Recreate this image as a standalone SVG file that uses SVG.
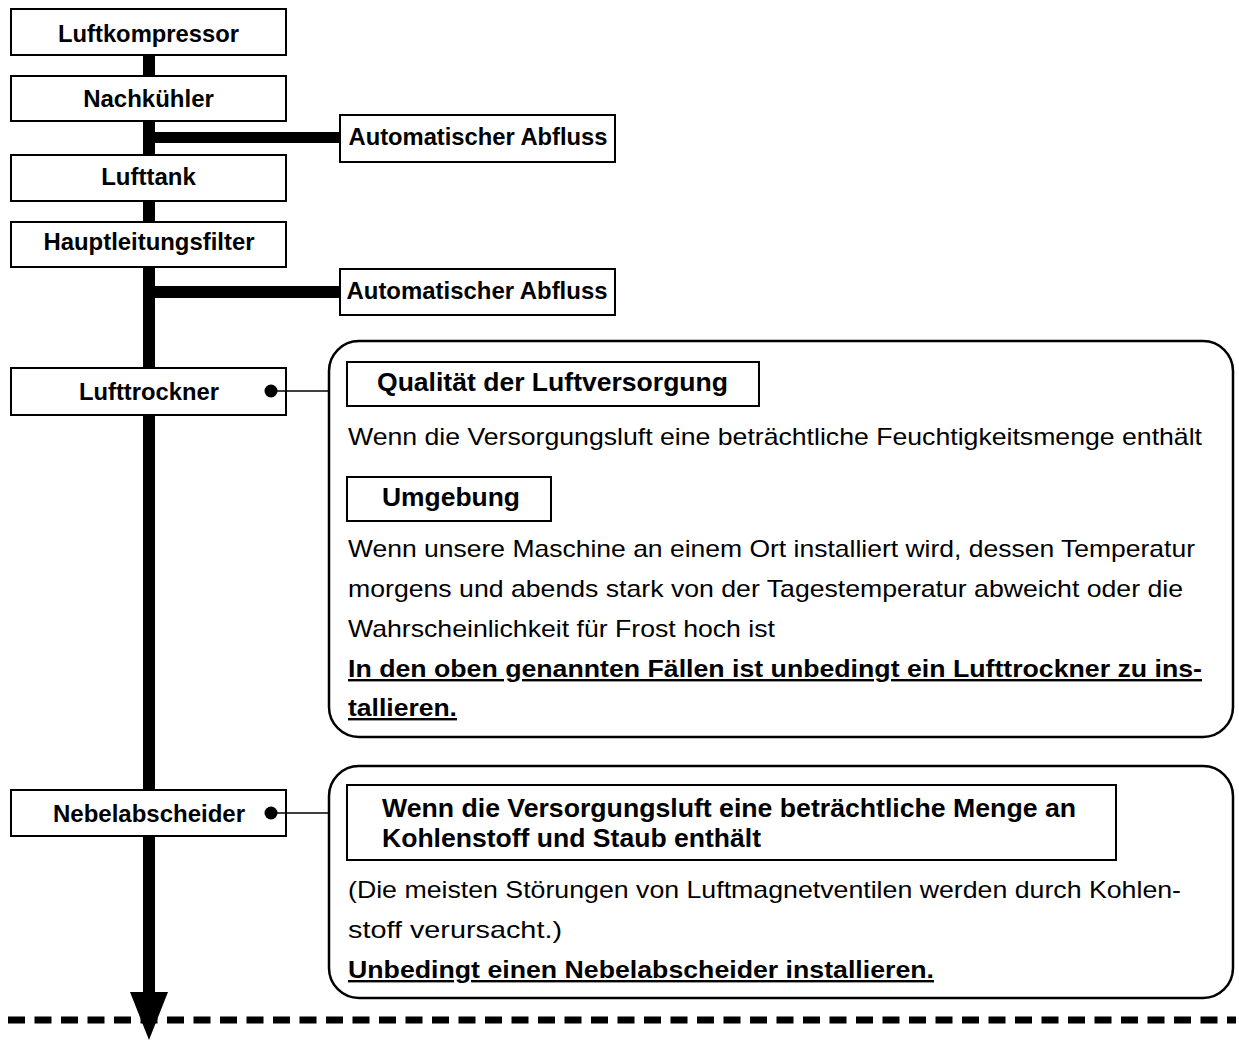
<svg xmlns="http://www.w3.org/2000/svg" width="1239" height="1041" viewBox="0 0 1239 1041">
<style>
.box{fill:#fff;stroke:#000;stroke-width:2}
.callout{fill:#fff;stroke:#000;stroke-width:2.5}
.lbl{font-family:"Liberation Sans",Arial,sans-serif;font-weight:bold;font-size:24px;fill:#000;text-anchor:middle}
.hdr{font-family:"Liberation Sans",Arial,sans-serif;font-weight:bold;font-size:26px;fill:#000}
.txt{font-family:"Liberation Sans",Arial,sans-serif;font-size:24px;fill:#000}
.ul{font-family:"Liberation Sans",Arial,sans-serif;font-weight:bold;font-size:24px;fill:#000;text-decoration:underline}
.pipe{fill:#000}
.lead{stroke:#000;stroke-width:1.5}
.dot{fill:#000}
</style>
<rect width="1239" height="1041" fill="#fff"/>
<line x1="8" y1="1020" x2="1236" y2="1020" stroke="#000" stroke-width="7" stroke-dasharray="17 9.5"/>
<g id="n-luftkompressor">
  <rect class="box" x="11" y="9" width="275" height="46"/>
  <text class="lbl" x="148.5" y="42" textLength="181" lengthAdjust="spacingAndGlyphs">Luftkompressor</text>
</g>
<g id="n-nachkuehler">
  <rect class="box" x="11" y="76" width="275" height="45"/>
  <text class="lbl" x="148.5" y="107">Nachkühler</text>
</g>
<g id="n-abfluss1">
  <rect class="box" x="340" y="115" width="275" height="47"/>
  <text class="lbl" x="478" y="145" textLength="259" lengthAdjust="spacingAndGlyphs">Automatischer Abfluss</text>
</g>
<g id="n-lufttank">
  <rect class="box" x="11" y="155" width="275" height="46"/>
  <text class="lbl" x="148.5" y="185">Lufttank</text>
</g>
<g id="n-hauptleitungsfilter">
  <rect class="box" x="11" y="222" width="275" height="45"/>
  <text class="lbl" x="149" y="250" textLength="211" lengthAdjust="spacingAndGlyphs">Hauptleitungsfilter</text>
</g>
<g id="n-abfluss2">
  <rect class="box" x="340" y="269" width="275" height="46"/>
  <text class="lbl" x="477" y="299" textLength="261" lengthAdjust="spacingAndGlyphs">Automatischer Abfluss</text>
</g>
<g id="n-lufttrockner">
  <rect class="box" x="11" y="368" width="275" height="47"/>
  <text class="lbl" x="149" y="400" textLength="140" lengthAdjust="spacingAndGlyphs">Lufttrockner</text>
</g>
<g id="n-nebelabscheider">
  <rect class="box" x="11" y="790" width="275" height="46"/>
  <text class="lbl" x="149" y="822" textLength="192" lengthAdjust="spacingAndGlyphs">Nebelabscheider</text>
</g>
<g id="callout-lufttrockner">
  <rect class="callout" x="329" y="341" width="904" height="396" rx="30"/>
  <rect class="box" x="347" y="362" width="412" height="44"/>
  <text class="hdr" x="377" y="391" textLength="351" lengthAdjust="spacingAndGlyphs">Qualität der Luftversorgung</text>
  <text class="txt" x="348" y="445" textLength="854" lengthAdjust="spacingAndGlyphs">Wenn die Versorgungsluft eine beträchtliche Feuchtigkeitsmenge enthält</text>
  <rect class="box" x="347" y="477" width="204" height="44"/>
  <text class="hdr" x="382" y="506" textLength="138" lengthAdjust="spacingAndGlyphs">Umgebung</text>
  <text class="txt" x="348" y="557" textLength="847" lengthAdjust="spacingAndGlyphs">Wenn unsere Maschine an einem Ort installiert wird, dessen Temperatur</text>
  <text class="txt" x="348" y="597" textLength="835" lengthAdjust="spacingAndGlyphs">morgens und abends stark von der Tagestemperatur abweicht oder die</text>
  <text class="txt" x="348" y="637" textLength="427" lengthAdjust="spacingAndGlyphs">Wahrscheinlichkeit für Frost hoch ist</text>
  <text class="ul" x="348" y="677" textLength="854" lengthAdjust="spacingAndGlyphs">In den oben genannten Fällen ist unbedingt ein Lufttrockner zu ins-</text>
  <text class="ul" x="348" y="716" textLength="109" lengthAdjust="spacingAndGlyphs">tallieren.</text>
</g>
<g id="callout-nebelabscheider">
  <rect class="callout" x="329" y="766" width="904" height="232" rx="30"/>
  <rect class="box" x="347" y="785" width="769" height="75"/>
  <text class="hdr" x="382" y="817" textLength="694" lengthAdjust="spacingAndGlyphs">Wenn die Versorgungsluft eine beträchtliche Menge an</text>
  <text class="hdr" x="382" y="847" textLength="379" lengthAdjust="spacingAndGlyphs">Kohlenstoff und Staub enthält</text>
  <text class="txt" x="348" y="898" textLength="833" lengthAdjust="spacingAndGlyphs">(Die meisten Störungen von Luftmagnetventilen werden durch Kohlen-</text>
  <text class="txt" x="348" y="938" textLength="214" lengthAdjust="spacingAndGlyphs">stoff verursacht.)</text>
  <text class="ul" x="348" y="978" textLength="586" lengthAdjust="spacingAndGlyphs">Unbedingt einen Nebelabscheider installieren.</text>
</g>
<g id="connectors">
  <rect class="pipe" x="143" y="55" width="12" height="21"/>
  <rect class="pipe" x="143" y="121" width="12" height="34"/>
  <rect class="pipe" x="143" y="201" width="12" height="21"/>
  <rect class="pipe" x="143" y="267" width="12" height="101"/>
  <rect class="pipe" x="143" y="415" width="12" height="375"/>
  <rect class="pipe" x="143" y="836" width="12" height="157"/>
  <rect class="pipe" x="155" y="132" width="184" height="11"/>
  <rect class="pipe" x="155" y="286" width="184" height="12"/>
  <polygon class="pipe" points="130,992 168,992 149,1040"/>
  <line class="lead" x1="271" y1="391" x2="328" y2="391"/>
  <circle class="dot" cx="271" cy="391" r="6.5"/>
  <line class="lead" x1="271" y1="813" x2="328" y2="813"/>
  <circle class="dot" cx="271" cy="813" r="6.5"/>
</g>
</svg>
